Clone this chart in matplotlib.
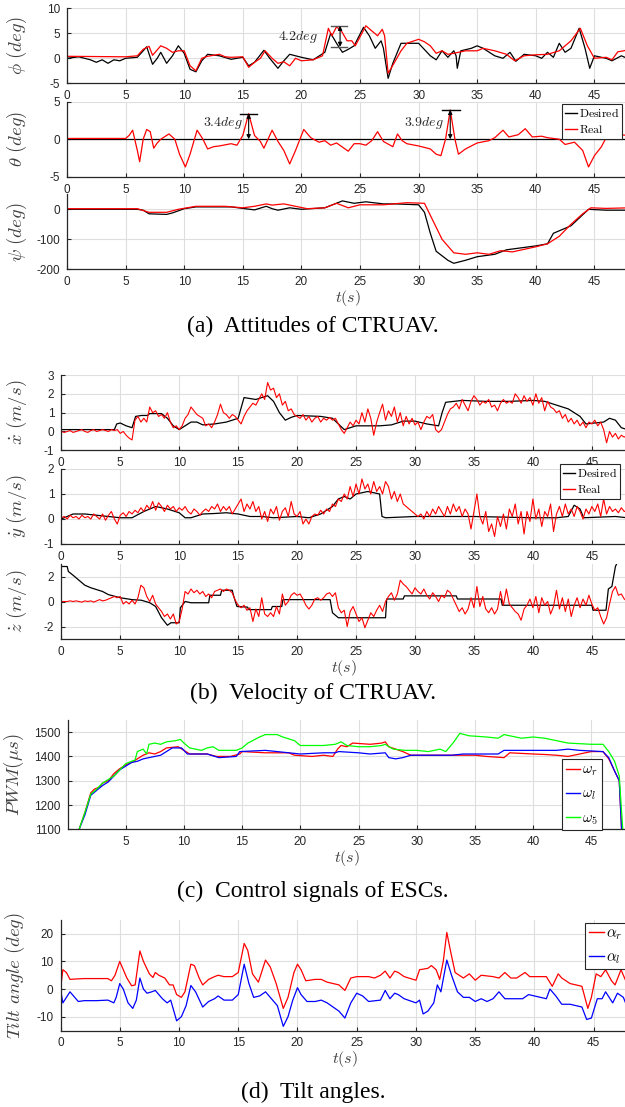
import numpy as np
import matplotlib
matplotlib.use("Agg")
import matplotlib.pyplot as plt
from matplotlib.lines import Line2D

plt.rcParams["mathtext.fontset"] = "cm"
plt.rcParams["axes.unicode_minus"] = False
plt.rcParams["font.family"] = "Liberation Sans"

W, H = 625, 1107

# ---- (a) attitudes, (t, value) pairs ----
PHI_DESIRED = [(0, 0), (1, 0.3), (2, -0.3), (2.5, -0.8), (3, -0.3), (3.5, -1.0), (4, -0.3), (4.5, -0.5),
               (5, 0), (6, 0.2), (6.5, 1.5), (6.8, 2.3), (7.3, -1.2), (7.7, 0), (8, 1.2), (8.5, -1.0),
               (9, 0.5), (9.5, 2.5), (10, 1), (10.5, -2.2), (11, -2.7), (11.5, -0.5), (12, 0.8), (13, 0.5),
               (14, -0.2), (15, 0.2), (15.5, -1.5), (16, -0.8), (16.8, 1.6), (17.3, 0), (18, -2.0),
               (18.5, -0.5), (19, 0.8), (20, 0.2), (21, -0.3), (22, 1.2), (22.5, 5.0), (23, 3.0),
               (23.5, 1.2), (24, 1.8), (24.5, 2.5), (25.3, 6.2), (25.8, 4.5), (26.3, 2.0), (26.8, 3.5),
               (27, 2.0), (27.4, -4.0), (27.8, -1.0), (28.5, 3.0), (30, 3.0), (31, 0.5), (31.5, -0.3),
               (32, 1.5), (32.5, 0.2), (33, 1.5), (33.2, 0.5), (33.3, -2.0), (33.6, 1.5), (34.5, 2.0),
               (35, 2.5), (35.5, 2.0), (36.5, 0.5), (37.2, 0.0), (37.8, 1.2), (38.3, -0.6), (39, 0.8),
               (40, 0.5), (40.5, 0.0), (41, 1.2), (41.5, 0.2), (42, 3.0), (42.5, 1.2), (43, 2.0),
               (43.7, 6.0), (44.2, 2.0), (44.6, -2.0), (45, 0.5), (46, 0.0), (46.5, -0.5), (47.3, 0.5),
               (48, -0.2)]
PHI_REAL = [(0, 0.4), (5, 0.3), (6, 0.5), (6.5, 1.8), (7, 2.4), (7.3, 0.6), (8, 2.5), (8.5, 2.0),
            (9, 1.2), (9.5, 1.5), (10, 1.5), (10.5, -1.5), (11, -2.5), (11.5, 0), (12, 0.4), (13, 0.8),
            (13.5, 0.3), (14, 0.2), (15, 0.3), (15.5, -1.8), (16, -0.8), (16.5, 0.0), (16.9, 1.5),
            (17.5, 0.0), (18, -1.0), (18.5, -0.7), (19, -1.5), (19.5, 0), (20, -0.5), (21, -0.3),
            (21.8, 0.5), (22.3, 6.0), (22.6, 4.5), (23, 6.3), (23.4, 5.5), (23.9, 3.5), (24.3, 3.5),
            (24.6, 2.5), (25.5, 6.5), (26, 5.5), (26.5, 4.5), (26.9, 5.8), (27.1, 4.5), (27.4, -3.0),
            (27.9, -1.0), (28.5, 1.5), (29, 3.0), (30, 3.8), (30.5, 3.3), (31, 2.5), (31.5, 1.0),
            (32, 1.5), (32.5, 0.8), (33, 1.0), (34, 1.5), (35, 1.5), (35.5, 2.0), (36.5, 1.5),
            (37.5, 0.8), (38.2, -0.5), (39, 0.5), (40, 0.7), (41, 0.8), (42, 1.5), (43, 3.5),
            (43.8, 6.0), (44.4, 2.5), (45, 0.0), (46, 0.2), (46.5, -0.3), (47, 1.3), (47.5, 1.5),
            (48, 1.8)]
THETA_DESIRED = [(0, 0), (48, 0)]
THETA_REAL = [(0, 0.1), (5, 0.1), (5.3, 0.5), (5.6, 1.2), (6, -1.5), (6.2, -3.0), (6.5, 0.0), (6.8, 1.3),
              (7.1, 1.0), (7.4, -1.2), (7.7, -0.5), (8, 0.0), (8.7, 0.7), (9.2, 0.0), (9.6, -2.0),
              (10.1, -3.7), (10.5, -2.0), (11.1, 1.2), (11.6, 0.0), (12, -1.3), (12.5, -1.0), (13, -0.9),
              (14, -0.6), (14.5, -0.8), (15, 0.5), (15.5, 3.4), (16, 0.5), (16.5, -0.3), (16.8, -1.2),
              (17.5, 1.2), (18, -0.3), (18.5, -1.5), (19, -3.3), (19.5, -1.5), (20.2, 1.3), (20.8, 0.2),
              (21.5, -0.4), (22, -0.2), (22.5, -0.8), (23, -0.5), (24, -1.6), (24.5, -0.6), (25, -0.6),
              (25.5, -0.8), (26, -0.2), (26.5, 1.0), (27, -0.3), (27.8, -1.0), (28.2, 0.7), (28.6, -0.2),
              (29, -0.6), (30, -0.9), (31, -1.3), (31.5, -2.0), (31.9, -2.2), (32.3, 0), (32.7, 3.9),
              (33.1, 0.0), (33.4, -2.0), (34, -1.3), (35, -0.5), (36, -0.2), (36.5, 0.2), (37.2, 1.2),
              (37.7, 0.3), (38.5, 0.6), (39.1, 1.4), (39.7, 0.3), (40.5, 0.4), (41, 0.2), (42, 0.0),
              (42.5, -0.7), (43.3, -0.4), (44, -1.5), (44.5, -3.7), (45, -2.2), (45.6, -1.0),
              (46.2, 0.8), (46.6, 0.0), (47, 0.6), (48, 0.5)]
PSI_DESIRED = [(0, 0), (6, 0), (6.5, -3), (7, -15), (8.5, -17), (9, -12), (10, 2), (11, 8), (14, 8),
               (15, 3), (16, -2), (17, 10), (17.5, 2), (18, -3), (19, 5), (20, 0), (22, 5), (23.5, 28),
               (24.5, 20), (25.5, 25), (27, 18), (28, 18), (30, 15), (30.5, -10), (31, -80),
               (31.5, -140), (32.5, -170), (33, -180), (34, -170), (35, -158), (36.5, -150),
               (37.5, -135), (40, -122), (41, -115), (41.5, -80), (43, -55), (44.5, 0), (46, -3), (48, -3)]
PSI_REAL = [(0, 2), (6, 2), (7, -10), (8.5, -10), (9.5, 0), (11, 10), (13.5, 10), (15, 5), (16, 10),
            (17, 18), (17.5, 14), (18.5, 18), (19.5, 10), (20.5, 2), (22, 5), (23, 20), (24, 5), (25, 15),
            (27, 15), (29, 22), (30.5, 20), (31, -20), (32, -100), (33, -145), (34, -150), (35, -145),
            (36, -150), (37, -138), (38, -142), (40, -125), (41, -115), (42, -90), (43, -50), (44, -15),
            (44.7, 5), (46, 3), (48, 5)]

# ---- (b) velocities ----
XDOT_DESIRED = [(0, 0.1), (4.5, 0.1), (4.7, 0.4), (5, 0.45), (5.5, 0.3), (6, 0.2), (6.3, 0.8), (6.8, 0.85),
                (7.3, 0.85), (7.5, 0.95), (8.5, 0.95), (9, 0.7), (9.5, 0.3), (10, 0.1), (10.5, 0.3),
                (11, 0.5), (11.5, 0.5), (12, 0.35), (13, 0.4), (14, 0.5), (15, 0.7), (15.5, 1.8),
                (16, 1.75), (16.5, 1.7), (17.5, 1.9), (18, 1.6), (18.5, 1.0), (19, 0.6), (19.5, 0.75),
                (20, 0.85), (22, 0.8), (23, 0.7), (23.5, 0.4), (24, 0.1), (25, 0.3), (27, 0.3),
                (28, 0.35), (29, 0.55), (30, 0.55), (31, 0.4), (32, 0.3), (32.3, 1.0), (32.6, 1.55),
                (34, 1.65), (36, 1.6), (38, 1.6), (40, 1.65), (41, 1.6), (42, 1.4), (43, 1.2), (44, 0.8),
                (44.5, 0.4), (46, 0.5), (46.5, 0.7), (47, 0.6), (47.5, 0.2), (48, 0.1)]
XDOT_REAL = [(0, 0.0), (0.25, -0.05), (0.5, 0.0), (0.75, 0.05), (1, -0.05), (1.25, 0.0), (1.5, 0.05),
             (1.75, 0.1), (2, 0.0), (2.25, -0.05), (2.5, 0.05), (2.75, 0.1), (3, 0.0), (3.25, 0.05),
             (3.5, 0.1), (3.75, 0.05), (4, 0.0), (4.25, 0.1), (4.5, 0.05), (4.75, 0.1), (5, -0.1),
             (5.25, 0.0), (5.5, -0.2), (5.75, -0.35), (6, -0.45), (6.25, 0.6), (6.5, 0.8), (6.75, 0.5),
             (7, 0.7), (7.25, 0.5), (7.5, 1.3), (7.75, 1.0), (8, 1.1), (8.25, 0.8), (8.5, 0.9),
             (8.75, 0.7), (9, 1.0), (9.25, 0.5), (9.5, 0.2), (9.75, 0.3), (10, 0.1), (10.25, 0.3),
             (10.5, 0.7), (10.75, 0.9), (11, 1.3), (11.25, 1.1), (11.5, 0.9), (11.75, 0.8), (12, 0.7),
             (12.25, 0.3), (12.5, 0.4), (12.75, 0.2), (13, 0.5), (13.25, 0.9), (13.5, 1.45),
             (13.75, 1.0), (14, 0.9), (14.25, 0.7), (14.5, 0.9), (14.75, 0.8), (15, 0.6), (15.25, 0.4),
             (15.5, 0.8), (15.75, 1.1), (16, 1.3), (16.25, 1.5), (16.5, 1.4), (16.75, 1.7), (17, 2.0),
             (17.25, 1.7), (17.5, 2.6), (17.75, 2.2), (18, 2.3), (18.25, 1.8), (18.5, 2.0),
             (18.75, 1.4), (19, 1.6), (19.25, 1.1), (19.5, 1.2), (19.75, 0.9), (20, 0.8), (20.25, 0.7),
             (20.5, 0.9), (20.75, 0.6), (21, 0.8), (21.25, 0.5), (21.5, 0.7), (21.75, 0.8), (22, 0.5),
             (22.25, 0.7), (22.5, 0.6), (22.75, 0.75), (23, 0.6), (23.25, 0.7), (23.5, 0.4),
             (23.75, 0.1), (24, -0.1), (24.25, 0.2), (24.5, 0.5), (24.75, 0.3), (25, 0.6), (25.25, 0.4),
             (25.5, 1.0), (25.75, 0.5), (26, 1.2), (26.25, 0.7), (26.5, -0.2), (26.75, 0.5), (27, 1.0),
             (27.25, 1.45), (27.5, 0.6), (27.75, 1.1), (28, 0.8), (28.25, 1.3), (28.5, 0.5),
             (28.75, 1.0), (29, 0.3), (29.25, 0.8), (29.5, 0.4), (29.75, 0.7), (30, 0.35), (30.25, 0.5),
             (30.5, 0.1), (30.75, 0.5), (31, 0.8), (31.25, 0.7), (31.5, 0.9), (31.75, 0.1),
             (32, -0.05), (32.25, 0.1), (32.5, 0.5), (32.75, 0.9), (33, 1.2), (33.25, 1.3), (33.5, 1.5),
             (33.75, 1.2), (34, 1.7), (34.25, 1.4), (34.5, 1.1), (34.75, 1.6), (35, 1.9), (35.25, 1.7),
             (35.5, 1.4), (35.75, 1.6), (36, 1.5), (36.25, 1.7), (36.5, 1.3), (36.75, 1.4), (37, 1.1),
             (37.25, 1.5), (37.5, 1.7), (37.75, 1.5), (38, 1.6), (38.25, 1.5), (38.5, 2.0),
             (38.75, 1.8), (39, 1.5), (39.25, 1.9), (39.5, 1.6), (39.75, 1.8), (40, 1.4), (40.25, 2.0),
             (40.5, 1.5), (40.75, 1.8), (41, 1.1), (41.25, 1.6), (41.5, 1.3), (41.75, 1.2), (42, 1.0),
             (42.25, 1.1), (42.5, 0.7), (42.75, 0.9), (43, 0.5), (43.25, 0.7), (43.5, 0.4),
             (43.75, 0.6), (44, 0.3), (44.25, 0.5), (44.5, 0.2), (44.75, 0.5), (45, 0.4), (45.25, 0.6),
             (45.5, 0.3), (45.75, 0.5), (46, 0.1), (46.25, -0.6), (46.5, 0.0), (46.75, -0.3),
             (47, -0.1), (47.25, -0.4), (47.5, -0.2), (47.75, -0.3), (48, -0.2)]
YDOT_DESIRED = [(0, 0.0), (0.5, 0.1), (1, 0.2), (2, 0.2), (3, 0.15), (4, 0.1), (5, 0.05), (6, 0.05),
                (7, 0.3), (8, 0.5), (9, 0.4), (10, 0.25), (10.5, 0.05), (11, 0.05), (12, 0.2), (13, 0.22),
                (14, 0.25), (15, 0.2), (16, 0.1), (17, 0.1), (18, 0.05), (20, 0.1), (21, 0.05), (22, 0.2),
                (23, 0.5), (23.5, 0.8), (24, 0.9), (24.5, 0.8), (25, 1.0), (26, 1.1), (27, 1.0),
                (27.2, 0.1), (27.5, 0.05), (30, 0.1), (35, 0.1), (40, 0.05), (42, 0.05), (43, 0.1),
                (43.5, 0.55), (44, 0.4), (44.3, 0.05), (47, 0.1), (48, 0.05)]
YDOT_REAL = [(0, 0.05), (0.25, 0.1), (0.5, 0.0), (0.75, 0.15), (1, 0.05), (1.25, 0.1), (1.5, 0.0),
             (1.75, 0.15), (2, 0.05), (2.25, 0.1), (2.5, 0.0), (2.75, 0.2), (3, 0.1), (3.25, 0.0),
             (3.5, 0.2), (3.75, -0.05), (4, 0.15), (4.25, 0.3), (4.5, 0.0), (4.75, -0.2), (5, 0.15),
             (5.25, 0.25), (5.5, 0.1), (5.75, 0.3), (6, 0.2), (6.25, 0.35), (6.5, 0.25), (6.75, 0.45),
             (7, 0.3), (7.25, 0.55), (7.5, 0.4), (7.75, 0.7), (8, 0.35), (8.25, 0.65), (8.5, 0.5),
             (8.75, 0.3), (9, 0.55), (9.25, 0.4), (9.5, 0.5), (9.75, 0.3), (10, 0.45), (10.25, 0.35),
             (10.5, 0.5), (10.75, 0.3), (11, 0.2), (11.25, 0.4), (11.5, 0.3), (11.75, 0.15), (12, 0.3),
             (12.25, 0.4), (12.5, 0.3), (12.75, 0.5), (13, 0.4), (13.25, 0.6), (13.5, 0.3),
             (13.75, 0.5), (14, 0.35), (14.25, 0.5), (14.5, 0.2), (14.75, 0.4), (15, 0.6), (15.25, 0.8),
             (15.5, 0.3), (15.75, 0.6), (16, 0.4), (16.25, 0.7), (16.5, 0.3), (16.75, 0.5), (17, 0.0),
             (17.25, 0.3), (17.5, -0.1), (17.75, 0.4), (18, 0.2), (18.25, 0.5), (18.5, -0.05),
             (18.75, 0.3), (19, 0.45), (19.25, 0.1), (19.5, 0.7), (19.75, 0.2), (20, 0.1), (20.25, 0.3),
             (20.5, -0.2), (20.75, 0.0), (21, -0.2), (21.25, 0.1), (21.5, 0.2), (21.75, 0.15),
             (22, 0.35), (22.25, 0.2), (22.5, 0.4), (22.75, 0.3), (23, 0.6), (23.25, 0.5), (23.5, 0.8),
             (23.75, 0.7), (24, 1.0), (24.25, 0.8), (24.5, 1.3), (24.75, 0.9), (25, 1.4), (25.25, 1.0),
             (25.5, 1.6), (25.75, 1.2), (26, 1.4), (26.25, 1.0), (26.5, 1.5), (26.75, 1.1), (27, 1.3),
             (27.25, 1.0), (27.5, 1.5), (27.75, 1.3), (28, 0.8), (28.25, 1.1), (28.5, 0.7), (28.75, 1.0),
             (29, 0.6), (29.25, 0.5), (29.5, 0.4), (29.75, 0.3), (30, 0.2), (30.25, 0.1), (30.5, 0.2),
             (30.75, 0.0), (31, 0.3), (31.25, 0.1), (31.5, 0.4), (31.75, 0.2), (32, 0.5), (32.25, 0.3),
             (32.5, 0.1), (32.75, 0.5), (33, 0.2), (33.25, 0.6), (33.5, 0.3), (33.75, 0.5), (34, 0.1),
             (34.25, 0.4), (34.5, 0.2), (34.75, -0.4), (35, 0.3), (35.25, 1.0), (35.5, 0.1),
             (35.75, -0.2), (36, 0.3), (36.25, -0.5), (36.5, -0.2), (36.75, -0.7), (37, 0.1),
             (37.25, -0.3), (37.5, 0.2), (37.75, -0.4), (38, 0.4), (38.25, 0.1), (38.5, 0.6),
             (38.75, -0.2), (39, 0.3), (39.25, -0.6), (39.5, 0.3), (39.75, -0.1), (40, 0.8), (40.25, 0.0),
             (40.5, 0.4), (40.75, -0.3), (41, 0.3), (41.25, 0.1), (41.5, 0.6), (41.75, -0.5), (42, 0.2),
             (42.25, 0.5), (42.5, 0.1), (42.75, 0.6), (43, 0.2), (43.25, 0.4), (43.5, 0.1), (43.75, 0.5),
             (44, 0.3), (44.25, 0.0), (44.5, 0.4), (44.75, 0.2), (45, 0.5), (45.25, 0.3), (45.5, 0.6),
             (45.75, 0.1), (46, 0.8), (46.25, 0.2), (46.5, 0.5), (46.75, 0.3), (47, 0.4), (47.25, 0.25),
             (47.5, 0.45), (47.75, 0.3), (48, 0.35)]
ZDOT_DESIRED = [(0, 2.8), (0.5, 2.8), (0.6, 2.4), (1, 2.1), (1.5, 1.7), (2, 1.3), (2.5, 1.1), (3, 0.95),
                (3.5, 0.8), (4, 0.55), (5, 0.3), (6, 0.15), (6.8, 0.1), (7.5, -0.1), (8, -0.4), (8.5, -1.3),
                (9, -1.9), (9.3, -1.7), (10, -1.7), (10.1, -0.5), (10.5, 0.0), (11, -0.1), (12.5, -0.1),
                (12.6, 0.5), (13.5, 0.5), (13.6, 0.9), (14.5, 0.9), (14.6, 0.5), (14.9, -0.4),
                (15.8, -0.45), (15.9, -0.65), (17.8, -0.65), (17.9, -0.4), (18.7, -0.4), (18.8, 0.15),
                (22.8, 0.15), (23, -0.9), (23.5, -1.3), (27.5, -1.3), (27.6, 0.2), (29, 0.2), (29.1, 0.45),
                (33.5, 0.45), (33.6, 0.2), (37.3, 0.2), (37.4, -0.3), (45, -0.3), (45.1, -0.7),
                (46.2, -0.7), (46.4, 1.0), (46.7, 1.2), (47, 2.8), (47.1, 3.0)]
ZDOT_REAL = [(0, 0.0), (0.25, 0.0), (0.5, 0.0), (0.75, 0.05), (1, 0.0), (1.25, 0.05), (1.5, 0.0),
             (1.75, -0.05), (2, 0.05), (2.25, 0.0), (2.5, 0.05), (2.75, -0.05), (3, 0.05), (3.25, 0.15),
             (3.5, 0.05), (3.75, 0.1), (4, 0.2), (4.25, 0.3), (4.5, 0.4), (4.75, 0.3), (5, 0.4),
             (5.25, -0.2), (5.5, 0.0), (5.75, -0.2), (6, 0.1), (6.25, -0.2), (6.5, 0.3), (6.75, 1.3),
             (7, 1.1), (7.25, 0.4), (7.5, 0.0), (7.75, 0.5), (8, -0.2), (8.25, -0.5), (8.5, -0.8),
             (8.75, -1.2), (9, -1.0), (9.25, -1.4), (9.5, -1.0), (9.75, -1.8), (10, -1.6), (10.25, -0.6),
             (10.5, 0.8), (10.75, 0.6), (11, 1.0), (11.25, 0.7), (11.5, 0.9), (11.75, 0.6), (12, 0.8),
             (12.25, 0.4), (12.5, 0.6), (12.75, 0.3), (13, 0.8), (13.25, 0.9), (13.5, 1.0), (13.75, 0.8),
             (14, 1.0), (14.25, 0.9), (14.5, 0.7), (14.75, 0.1), (15, -0.3), (15.25, -0.5), (15.5, -0.3),
             (15.75, -0.7), (16, -0.5), (16.25, -1.6), (16.5, -0.6), (16.75, -1.2), (17, 0.3),
             (17.25, -1.0), (17.5, -1.2), (17.75, -0.9), (18, -1.2), (18.25, -0.4), (18.5, -1.0),
             (18.75, 0.6), (19, -0.3), (19.25, 0.0), (19.5, 0.5), (19.75, 0.7), (20, 0.5), (20.25, 0.6),
             (20.5, 0.2), (20.75, -0.3), (21, -0.6), (21.25, -0.3), (21.5, 0.2), (21.75, 0.3), (22, 0.1),
             (22.25, 0.3), (22.5, 0.6), (22.75, 0.7), (23, 0.4), (23.25, 0.7), (23.5, -0.5),
             (23.75, -0.9), (24, -0.7), (24.25, -2.0), (24.5, -0.8), (24.75, -0.4), (25, -1.0),
             (25.25, -1.6), (25.5, -1.3), (25.75, -2.1), (26, -1.5), (26.25, -0.9), (26.5, -1.2),
             (26.75, -0.7), (27, -0.3), (27.25, -0.8), (27.5, 0.0), (27.75, 0.4), (28, 0.7), (28.25, 0.1),
             (28.5, 0.6), (28.75, 1.7), (29, 1.4), (29.25, 1.2), (29.5, 0.9), (29.75, 0.6), (30, 1.1),
             (30.25, 0.8), (30.5, 0.6), (30.75, 1.0), (31, 0.5), (31.25, 0.2), (31.5, 0.7), (31.75, 0.4),
             (32, 0.0), (32.25, 0.5), (32.5, 0.3), (32.75, 0.9), (33, 0.7), (33.25, 0.2), (33.5, -0.3),
             (33.75, -0.8), (34, -0.5), (34.25, -1.0), (34.5, -0.6), (34.75, 0.3), (35, -0.5),
             (35.25, 1.2), (35.5, -0.4), (35.75, 0.4), (36, -0.6), (36.25, -0.9), (36.5, -0.5),
             (36.75, -1.0), (37, -0.6), (37.25, 0.8), (37.5, -0.3), (37.75, 1.0), (38, -0.2),
             (38.25, -0.5), (38.5, -0.8), (38.75, -1.0), (39, -1.5), (39.25, -0.6), (39.5, -0.3),
             (39.75, 0.2), (40, -0.5), (40.25, 0.4), (40.5, -0.9), (40.75, 0.3), (41, -0.3), (41.25, 0.0),
             (41.5, -1.0), (41.75, -0.4), (42, 0.9), (42.25, -0.6), (42.5, 0.3), (42.75, -0.8), (43, 0.2),
             (43.25, -1.2), (43.5, -0.3), (43.75, 0.3), (44, -0.5), (44.25, 0.2), (44.5, -0.3),
             (44.75, 0.5), (45, -0.2), (45.25, -0.7), (45.5, -0.5), (45.75, -1.2), (46, -1.8),
             (46.25, -1.3), (46.5, -0.2), (46.75, 0.8), (47, 1.2), (47.25, 0.5), (47.5, 0.6),
             (47.75, 0.2), (48, 0.0)]

# ---- (c) ESC PWM ----
PWM_R = [(1, 1100), (1.5, 1170), (2, 1250), (2.3, 1265), (2.8, 1275), (3, 1290), (3.5, 1300), (4, 1330),
         (4.5, 1350), (5, 1365), (5.5, 1375), (6, 1390), (6.5, 1405), (7, 1415), (7.5, 1410), (8, 1420),
         (8.5, 1435), (9.5, 1440), (10, 1425), (10.5, 1410), (12, 1410), (12.8, 1400), (14, 1400),
         (14.8, 1410), (15, 1420), (17, 1415), (18, 1415), (19, 1415), (19.5, 1405), (21, 1400),
         (22, 1405), (22.8, 1400), (23.2, 1430), (23.5, 1445), (24, 1440), (24.5, 1455), (26, 1450),
         (27, 1455), (27.3, 1460), (27.6, 1440), (28.2, 1430), (28.8, 1420), (29.5, 1405), (33, 1405),
         (35, 1405), (36, 1400), (37.5, 1395), (38, 1415), (40, 1410), (41, 1408), (42, 1405),
         (43, 1400), (44, 1410), (45, 1420), (46, 1420), (46.5, 1390), (47, 1340), (47.4, 1300),
         (47.6, 1100)]
PWM_L = [(1, 1100), (1.5, 1160), (2, 1240), (2.5, 1260), (3, 1280), (3.5, 1295), (4, 1320), (4.5, 1345),
         (5, 1360), (5.5, 1375), (6, 1380), (6.5, 1390), (7, 1395), (8, 1405), (8.5, 1420), (9, 1435),
         (9.8, 1435), (10.3, 1410), (12, 1410), (13, 1395), (14.5, 1400), (14.8, 1420), (17, 1425),
         (18, 1420), (20, 1410), (22, 1415), (23, 1415), (23.3, 1420), (25, 1415), (26, 1410),
         (27.3, 1415), (27.6, 1395), (28.2, 1390), (28.8, 1395), (29.5, 1405), (32, 1405), (33, 1405),
         (34, 1410), (37, 1410), (37.5, 1425), (40, 1425), (42, 1425), (43, 1430), (44, 1425),
         (46, 1420), (46.5, 1395), (47, 1340), (47.4, 1300), (47.6, 1100)]
PWM_5 = [(1, 1100), (1.5, 1170), (2, 1245), (2.5, 1265), (3, 1290), (4, 1320), (4.5, 1345), (5, 1370),
         (5.5, 1380), (5.8, 1385), (6, 1420), (6.5, 1430), (6.8, 1410), (7, 1450), (7.5, 1455),
         (8, 1450), (8.5, 1460), (9.3, 1465), (9.7, 1470), (10, 1455), (10.5, 1435), (11, 1430),
         (11.5, 1425), (12, 1435), (12.5, 1440), (13, 1425), (14.5, 1425), (15, 1435), (15.5, 1455),
         (16.5, 1480), (17, 1490), (18, 1490), (18.5, 1480), (19.5, 1465), (20, 1445), (22, 1445),
         (23, 1450), (23.5, 1460), (24, 1445), (25, 1440), (26, 1440), (27, 1445), (27.3, 1450),
         (27.6, 1440), (28, 1430), (29, 1425), (30, 1425), (31, 1420), (32, 1430), (32.5, 1420),
         (33.2, 1460), (33.7, 1495), (34.5, 1485), (36, 1480), (37, 1475), (37.5, 1490), (38, 1485),
         (39, 1475), (40, 1480), (41, 1475), (42, 1465), (43, 1455), (45, 1450), (46, 1450),
         (46.5, 1420), (47, 1380), (47.4, 1320), (47.7, 1100)]

# ---- (d) tilt angles ----
ALPHA_R = [(0, 0), (0.2, 7), (0.5, 6), (0.8, 3.5), (1.5, 3.7), (2, 3.8), (3, 3.8), (4, 3.8), (4.3, 3.0),
           (4.6, 5), (5, 10), (5.3, 7), (5.6, 4), (6, 1.2), (6.3, 1.5), (6.7, 13.8), (7, 10), (7.5, 5.5),
           (7.8, 4.2), (8, 6), (8.3, 5), (8.8, 4), (9.2, 1.5), (9.5, 1.5), (9.8, -2), (10.2, -3),
           (10.5, -1), (11, 9), (11.3, 8.5), (11.7, 4), (12, 1.5), (12.5, 3.5), (13, 4.5), (13.3, 5),
           (13.8, 4.5), (14.5, 4.5), (15, 6), (15.5, 16.5), (15.8, 14), (16.2, 5.5), (16.7, 2.5),
           (17.3, 10.5), (17.7, 8), (18.2, 2), (18.8, -7), (19.2, -3), (19.7, 6), (20, 9), (20.3, 7),
           (20.7, 3), (21.5, 3.5), (22, 3.5), (22.5, 2.5), (23, 2), (23.5, 1.5), (24, -0.5), (24.5, 4),
           (25, 4.5), (26, 4.5), (26.5, 4), (27, 5), (27.4, 6.5), (27.8, 4), (28.2, 6.5), (28.5, 6),
           (29, 4.5), (30, 3.2), (30.3, 7), (31, 7.5), (31.3, 8.5), (31.7, 7), (32, 3.5), (32.3, 10),
           (32.6, 20.5), (32.9, 14), (33.3, 6), (34, 4), (34.5, 5.5), (35, 3.2), (35.5, 5), (36.5, 4.5),
           (37, 4), (37.5, 6), (38, 4), (38.5, 4), (39.2, 6), (39.6, 4.5), (40.5, 4.5), (41, 4.5),
           (41.5, 1), (42, 5.5), (42.3, 4), (43, 2), (44, 1), (44.5, -7), (44.8, -3), (45.2, 5.5),
           (45.6, 4.5), (46, 7), (46.5, 3), (46.8, 1.5), (47.3, 7), (47.7, 3), (48, -1)]
ALPHA_L = [(0, 0), (0.2, -5), (0.5, -3), (0.8, -1), (1.2, -3), (1.5, -4.5), (2, -4.2), (3, -4.2), (4, -4),
           (4.5, -5), (4.7, -3), (5, 2), (5.3, 0), (5.7, -5), (6.1, -7), (6.4, -4), (6.7, 4), (7, 0),
           (7.3, -1.5), (7.7, -1), (8, -0.5), (8.3, -2), (8.6, -3.5), (9, -5), (9.3, -4), (9.8, -11.5),
           (10.2, -10), (10.6, -6), (11, 1.3), (11.4, -1), (12, -6.5), (12.5, -4.5), (13, -3.5),
           (13.3, -2.5), (13.8, -4), (14.5, -4), (15, -2), (15.5, 9), (15.9, 2), (16.3, -3), (16.8, -2.5),
           (17.3, -1), (17.7, -3), (18.3, -6), (18.8, -13.5), (19.2, -10), (19.6, -4), (20, 0.5),
           (20.3, -2), (20.8, -4.5), (21.5, -4.5), (22, -4), (22.5, -5), (23, -6.5), (23.5, -8),
           (24, -10.5), (24.5, -5), (25, -1.5), (25.5, -2.5), (26, -4.5), (27, -4), (27.4, -0.5),
           (27.8, -3.5), (28.2, -1.5), (28.5, -2), (29, -3.5), (30, -5), (30.3, -4), (30.6, -9), (31, -8),
           (31.5, -5), (31.8, 1.5), (32.1, -1), (32.6, 10.5), (33, 5), (33.5, -1), (34, -3), (34.5, -3),
           (35, -4.5), (35.5, -3.5), (36, -4.5), (36.5, -3.5), (37, -1), (37.5, -3.5), (38, -3.5),
           (39, -3.5), (39.5, -2), (40, -2.5), (41, -3.5), (41.3, 0), (41.8, -2.5), (42.3, -5.5),
           (43, -5.5), (44, -6.5), (44.4, -11), (44.8, -10.5), (45.3, -3.5), (45.7, -3.5), (46, -1),
           (46.6, -5), (47, -1.5), (47.5, -3), (48, -8.5)]

RED, BLUE, GREEN = "#ff0000", "#0000ff", "#00ff00"
GRAY = "#262626"
LBL = "#404040"


def xy(pairs):
    a = np.array(pairs, dtype=float)
    return a[:, 0], a[:, 1]


fig = plt.figure(figsize=(W / 100, H / 100), dpi=100)


def panel(left, top, height, per_unit, ylim, yticks, xticks=range(0, 50, 5), label_x=29):
    width = 48 * per_unit
    ax = fig.add_axes([left / W, 1 - (top + height) / H, width / W, height / H])
    ax.set_xlim(0, 48)
    ax.set_ylim(*ylim)
    ax.set_xticks(list(xticks))
    ax.set_yticks(yticks)
    for s in ("top", "right"):
        ax.spines[s].set_visible(False)
    for s in ("left", "bottom"):
        ax.spines[s].set_color(GRAY)
        ax.spines[s].set_linewidth(0.9)
    ax.tick_params(direction="in", length=3, width=0.8, colors=GRAY, labelsize=8.5, pad=5)
    ax.grid(True, color="#dedede", lw=0.8)
    ax.set_axisbelow(True)
    ax.yaxis.set_label_coords((label_x - left) / width, 0.5)
    return ax


def ylab(ax, text):
    ax.set_ylabel(text, fontsize=13.5, color=LBL)


def xlab(ax):
    ax.set_xlabel(r"$t(s)$", fontsize=11.5, color=LBL, labelpad=0)


def caption(y, text):
    fig.text(313 / W, 1 - y / H, text, ha="center", va="center", fontsize=17,
             family="Liberation Serif", color="black")


def legend(ax, handles, labels, left, top, fs, spacing):
    leg = ax.legend(handles, labels, loc="upper left", bbox_to_anchor=(left / W, 1 - top / H),
                    bbox_transform=fig.transFigure, fontsize=fs, frameon=True, fancybox=False,
                    framealpha=1, edgecolor=GRAY, borderpad=0.25, handlelength=1.0,
                    handletextpad=0.15, labelspacing=spacing, borderaxespad=0)
    leg.get_frame().set_linewidth(0.8)


def arrow(ax, t, lo, hi):
    ax.annotate("", xy=(t, hi), xytext=(t, lo),
                arrowprops=dict(arrowstyle="<|-|>", color="k", lw=0.8, mutation_scale=6,
                                shrinkA=0, shrinkB=0))


# (a) attitudes
ax = panel(67, 8.3, 75, 11.72, (-5, 10), [-5, 0, 5, 10])
ax.plot(*xy(PHI_DESIRED), color="k", lw=0.9)
ax.plot(*xy(PHI_REAL), color=RED, lw=0.9)
ax.plot([22.5, 23.9], [6.5, 6.5], color="#555555", lw=1)
ax.plot([22.5, 23.9], [2.3, 2.3], color="#555555", lw=1)
arrow(ax, 23.3, 2.3, 6.5)
ax.text(21.4, 4.2, r"$4.2deg$", ha="right", va="center", fontsize=10, color=GRAY)
ylab(ax, r"$\phi\ (deg)$")

ax = panel(67, 101.7, 75, 11.72, (-5, 5), [-5, 0, 5])
ax.plot(*xy(THETA_DESIRED), color="k", lw=0.9)
ax.plot(*xy(THETA_REAL), color=RED, lw=0.9)
ax.plot([14.75, 16.2], [3.4, 3.4], color="k", lw=1)
arrow(ax, 15.5, 0, 3.4)
ax.text(15.0, 2.2, r"$3.4deg$", ha="right", va="center", fontsize=10, color=GRAY)
ax.plot([32.0, 33.5], [3.9, 3.9], color="k", lw=1)
arrow(ax, 32.7, 0, 3.9)
ax.text(32.2, 2.2, r"$3.9deg$", ha="right", va="center", fontsize=10, color=GRAY)
ylab(ax, r"$\theta\ (deg)$")
legend(ax, [Line2D([], [], color="k", lw=1), Line2D([], [], color=RED, lw=1)],
       [r"$\mathrm{Desired}$", r"$\mathrm{Real}$"], 562.3, 104.3, 8.5, 0.3)

ax = panel(67, 194.3, 75, 11.72, (-200, 50), [-200, -100, 0])
ax.plot(*xy(PSI_DESIRED), color="k", lw=0.9)
ax.plot(*xy(PSI_REAL), color=RED, lw=0.9)
ylab(ax, r"$\psi\ (deg)$")
xlab(ax)
caption(326.7, "(a)  Attitudes of CTRUAV.")

# (b) velocities
ax = panel(61.3, 375, 75.3, 11.79, (-1, 3), [-1, 0, 1, 2, 3])
ax.plot(*xy(XDOT_DESIRED), color="k", lw=0.9)
ax.plot(*xy(XDOT_REAL), color=RED, lw=0.8)
ylab(ax, r"$\dot{x}\ (m/s)$")

ax = panel(61.3, 469, 75, 11.79, (-1, 2), [-1, 0, 1, 2])
ax.plot(*xy(YDOT_DESIRED), color="k", lw=0.9)
ax.plot(*xy(YDOT_REAL), color=RED, lw=0.8)
ylab(ax, r"$\dot{y}\ (m/s)$")
legend(ax, [Line2D([], [], color="k", lw=1), Line2D([], [], color=RED, lw=1)],
       [r"$\mathrm{Desired}$", r"$\mathrm{Real}$"], 560, 464.3, 8.5, 0.3)

ax = panel(61.3, 564, 75, 11.79, (-3, 3), [-2, 0, 2])
ax.plot(*xy(ZDOT_DESIRED), color="k", lw=0.9)
ax.plot(*xy(ZDOT_REAL), color=RED, lw=0.8)
ylab(ax, r"$\dot{z}\ (m/s)$")
xlab(ax)
caption(693, "(b)  Velocity of CTRUAV.")

# (c) control signals
ax = panel(67.5, 720, 109.3, 11.64, (1100, 1550), [1100, 1200, 1300, 1400, 1500],
           xticks=range(5, 50, 5), label_x=26)
ax.plot(*xy(PWM_R), color=RED, lw=0.9)
ax.plot(*xy(PWM_L), color=BLUE, lw=0.9)
ax.plot(*xy(PWM_5), color=GREEN, lw=0.9)
ylab(ax, r"$PWM(\mu s)$")
xlab(ax)
legend(ax, [Line2D([], [], color=c, lw=1) for c in (RED, BLUE, GREEN)],
       [r"$\omega_r$", r"$\omega_l$", r"$\omega_5$"], 562, 759, 10.5, 0.6)
caption(891.7, "(c)  Control signals of ESCs.")

# (d) tilt angles
ax = panel(60.5, 920, 110.5, 11.85, (-15, 25), [-10, 0, 10, 20], label_x=27)
ax.plot(*xy(ALPHA_R), color=RED, lw=0.9)
ax.plot(*xy(ALPHA_L), color=BLUE, lw=0.9)
ylab(ax, r"$Tilt\ angle\ (deg)$")
xlab(ax)
legend(ax, [Line2D([], [], color=c, lw=1) for c in (RED, BLUE)],
       [r"$\alpha_r$", r"$\alpha_l$"], 585, 923, 11, 0.5)
caption(1092, "(d)  Tilt angles.")

fig.savefig("out.png", dpi=100)
